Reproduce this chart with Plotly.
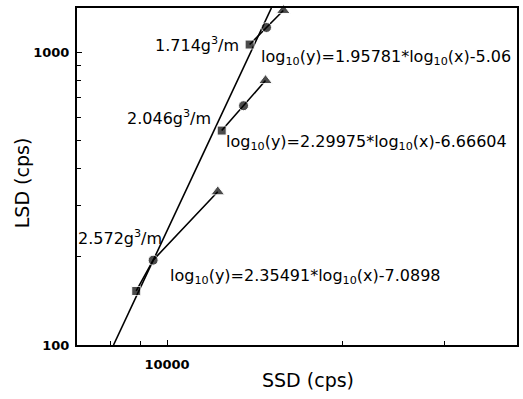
import plotly.graph_objects as go
import math

# Data (SSD on x, LSD on y, both cps)
densities = ["1.714", "2.046", "2.572"]
ssd_1714 = [13870, 14830, 15850]
lsd_1714 = [1065, 1218, 1393]
ssd_2046 = [12418, 13540, 14770]
lsd_2046 = [541, 658, 802]
ssd_2572 = [8851, 9464, 12225]
lsd_2572 = [153, 195, 334]
# long straight reference line (two end points where it meets the frame)
line_ssd = [8090, 15120]
line_lsd = [100, 1420]

equations = [
    "log<sub>10</sub>(y)=1.95781*log<sub>10</sub>(x)-5.06",
    "log<sub>10</sub>(y)=2.29975*log<sub>10</sub>(x)-6.66604",
    "log<sub>10</sub>(y)=2.35491*log<sub>10</sub>(x)-7.0898",
]
x_range = [7000, 40000]
y_range = [100, 1420]
x_major = [10000]
x_minor = [8000, 9000, 20000, 30000]
y_major = [100, 1000]
y_minor = [200, 300, 400, 500, 600, 700, 800, 900]

FONT = "DejaVu Sans"
fig = go.Figure()

fig.add_trace(go.Scatter(x=line_ssd, y=line_lsd, mode="lines",
                         line=dict(color="black", width=1.6), showlegend=False))
symbols = ["square", "circle", "triangle-up"]
for xs, ys in [(ssd_1714, lsd_1714), (ssd_2046, lsd_2046), (ssd_2572, lsd_2572)]:
    fig.add_trace(go.Scatter(x=xs, y=ys, mode="lines+markers",
                             line=dict(color="black", width=1.6),
                             marker=dict(symbol=symbols, size=[9, 10, 12], color="black"),
                             cliponaxis=False, showlegend=False))

def lx(px):
    return 4 + (px - 167) / 585.0

def ly(py):
    return 2 + (345 - py) / 292.0

ann = []
# density labels (right-anchored)
for d, (px, py) in zip(densities, [(241, 45), (213, 118), (164, 238)]):
    ann.append(dict(x=lx(px), y=ly(py), xref="x", yref="y", text=d + "g<sup>3</sup>/m",
                    showarrow=False, xanchor="right", yanchor="middle",
                    font=dict(family=FONT, size=16, color="black")))
for eq, (px, py) in zip(equations, [(260, 58), (224, 143), (168, 277)]):
    ann.append(dict(x=lx(px), y=ly(py), xref="x", yref="y", text=eq,
                    showarrow=False, xanchor="left", yanchor="middle",
                    font=dict(family=FONT, size=16, color="black")))
# axis titles
ann.append(dict(x=(309 - 77) / 442.0, y=-(380 - 345) / 337.0, xref="paper", yref="paper",
                text="SSD (cps)", showarrow=False, xanchor="center", yanchor="middle",
                font=dict(family=FONT, size=19, color="black")))
ann.append(dict(x=-(77 - 22) / 442.0, y=(345 - 183) / 337.0, xref="paper", yref="paper",
                text="LSD (cps)", showarrow=False, xanchor="center", yanchor="middle",
                textangle=-90, font=dict(family=FONT, size=19, color="black")))

fig.update_layout(
    width=523, height=399,
    margin=dict(l=77, r=4, t=8, b=54),
    paper_bgcolor="white", plot_bgcolor="white",
    annotations=ann,
    xaxis=dict(type="log", range=[math.log10(x_range[0]), math.log10(x_range[1])],
               tickvals=x_major, ticktext=[str(v) for v in x_major],
               ticks="inside", ticklen=5, tickcolor="black",
               minor=dict(tickvals=x_minor, ticks="inside", ticklen=4, tickcolor="black"),
               showline=True, linecolor="black", linewidth=2, mirror=True,
               showgrid=False, zeroline=False, ticklabelstandoff=6,
               tickfont=dict(family=FONT, size=13, color="black", weight="bold")),
    yaxis=dict(type="log", range=[math.log10(y_range[0]), math.log10(y_range[1])],
               tickvals=y_major, ticktext=[str(v) for v in y_major],
               ticks="inside", ticklen=5, tickcolor="black",
               minor=dict(tickvals=y_minor, ticks="inside", ticklen=4, tickcolor="black"),
               showline=True, linecolor="black", linewidth=2, mirror=True,
               showgrid=False, zeroline=False, ticklabelstandoff=3,
               tickfont=dict(family=FONT, size=13, color="black", weight="bold")),
)

fig.write_html("out.html")
